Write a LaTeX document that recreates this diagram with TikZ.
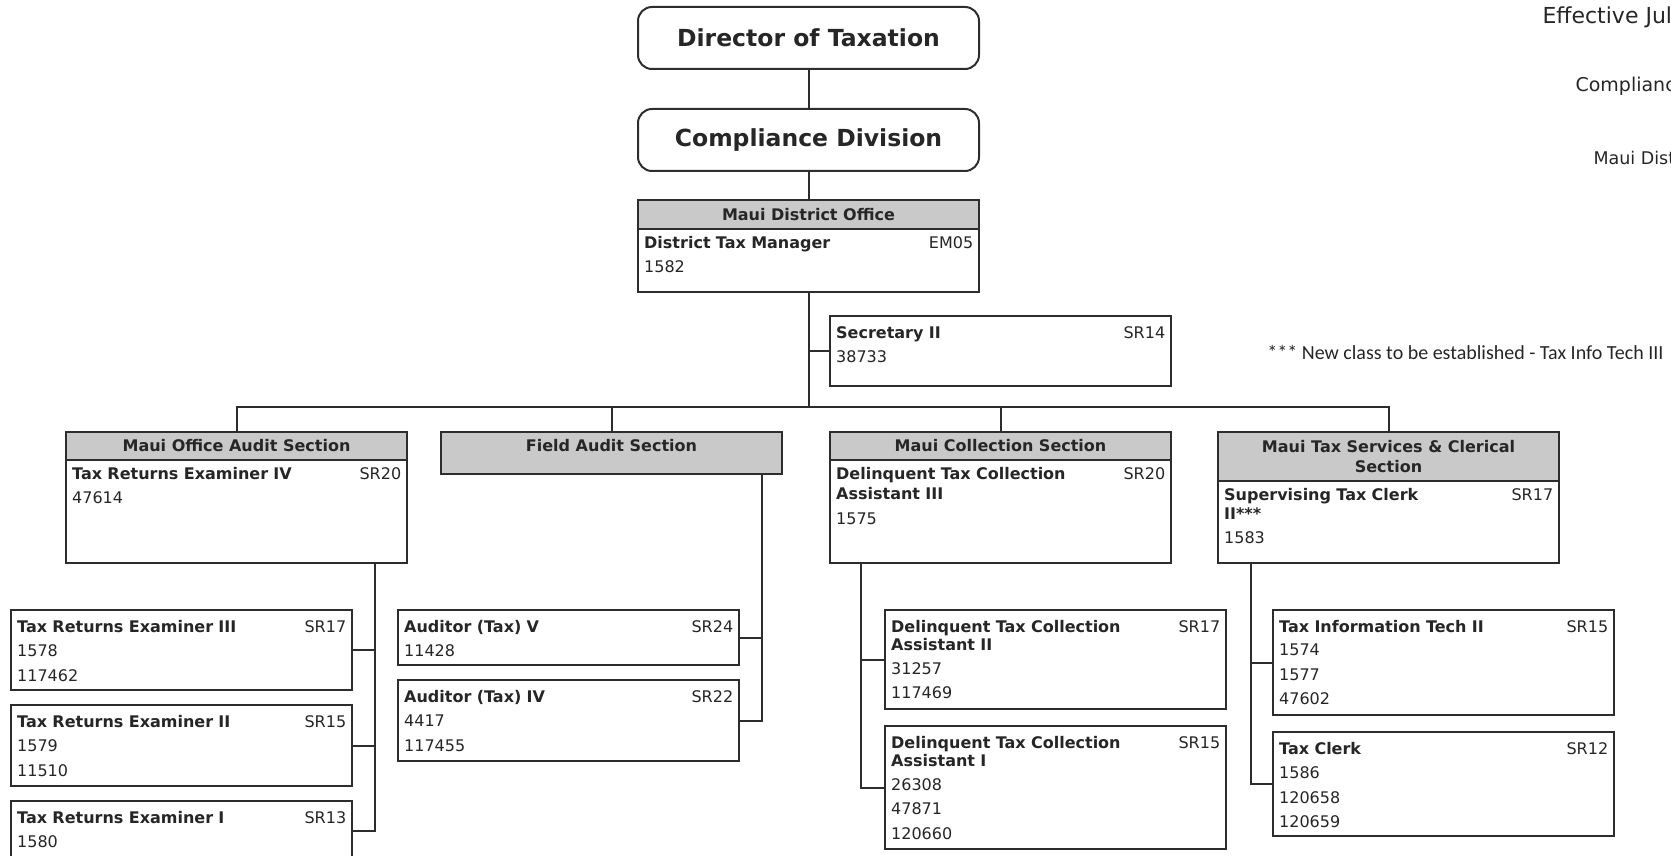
\documentclass[tikz,border=0pt]{standalone}
\usepackage{fontspec}
\setmainfont{DejaVu Sans}
\newfontfamily\notefont{Carlito}
\usetikzlibrary{positioning}
\definecolor{linegray}{RGB}{45,45,45}
\definecolor{headgray}{RGB}{201,201,201}
\newcommand{\grade}[1]{\hskip 0pt plus 1filll #1}
% plain job box: name, x, y, height, text
\newcommand{\jobbox}[5]{%
  \node[frame, minimum height=#4pt] (#1) at (#2,#3) {};
  \node[jobtext, inner ysep=10pt] (#1t) at (#1.north west) {#5};}
% job box with grey section head: name, x, y, height, head height, head, text
\newcommand{\sectbox}[7]{%
  \node[frame, minimum height=#4pt] (#1) at (#2,#3) {};
  \node[head, minimum height=#5pt] (#1h) at (#1.north west) {#6};
  \node[jobtext, inner ysep=7pt] (#1t) at (#1h.south west) {#7};}
\begin{document}
\begin{tikzpicture}[x=1pt, y=-1pt,
    every node/.style={text=black!85},
    frame/.style={draw=linegray, line width=2pt, fill=white, minimum width=341pt,
      anchor=north west, inner sep=0pt, outer sep=0pt},
    head/.style={frame, fill=headgray, minimum height=28pt, align=center,
      font=\bfseries\fontsize{16}{20}\selectfont},
    jobtext/.style={anchor=north west, inner xsep=6pt, text width=329pt, align=left,
      font=\fontsize{16}{24.5}\selectfont},
    title/.style={draw=linegray, line width=2pt, rounded corners=14pt, minimum width=341pt,
      minimum height=62pt, font=\bfseries\fontsize{23.5}{24}\selectfont},
    link/.style={draw=linegray, line width=2pt}]
\clip (0,0) rectangle (1671,856);

\node[title] (dir) at (808.5,38) {Director of Taxation};
\node[title] (comp) at (808.5,140) {Compliance Division};

\sectbox{dist}{638}{200}{92}{29}{Maui District Office}
  {\textbf{District Tax Manager}\grade{EM05}\\1582}
\jobbox{sec}{830}{316}{70}{\textbf{Secretary II}\grade{SR14}\\38733}

% sections
\sectbox{moa}{66}{432}{131}{28}{Maui Office Audit Section}
  {\textbf{Tax Returns Examiner IV}\grade{SR20}\\47614}
\node[frame, fill=headgray, minimum height=42pt] (fa) at (441,432) {};
\node[head, draw=none, fill=none] (fah) at (fa.north west) {Field Audit Section};
\sectbox{mc}{830}{432}{131}{28}{Maui Collection Section}
  {\textbf{Delinquent Tax Collection}\grade{SR20}\\[-4pt]\textbf{Assistant III}\\1575}
\sectbox{mts}{1218}{432}{131}{49}{Maui Tax Services \& Clerical\\Section}
  {\textbf{Supervising Tax Clerk}\grade{SR17}\\[-5pt]\textbf{II***}\\[-1pt]1583}

% positions
\jobbox{tre3}{11}{610}{80}{\textbf{Tax Returns Examiner III}\grade{SR17}\\1578\\117462}
\jobbox{tre2}{11}{705}{81}{\textbf{Tax Returns Examiner II}\grade{SR15}\\1579\\11510}
\jobbox{tre1}{11}{801}{60}{\textbf{Tax Returns Examiner I}\grade{SR13}\\1580}
\jobbox{aud5}{398}{610}{55}{\textbf{Auditor (Tax) V}\grade{SR24}\\11428}
\jobbox{aud4}{398}{680}{81}{\textbf{Auditor (Tax) IV}\grade{SR22}\\4417\\117455}
\jobbox{dtca2}{885}{610}{99}
  {\textbf{Delinquent Tax Collection}\grade{SR17}\\[-6pt]\textbf{Assistant II}\\[-1pt]31257\\117469}
\jobbox{dtca1}{885}{726}{123}
  {\textbf{Delinquent Tax Collection}\grade{SR15}\\[-6pt]\textbf{Assistant I}\\[-1pt]26308\\47871\\120660}
\jobbox{tit2}{1273}{610}{105}{\textbf{Tax Information Tech II}\grade{SR15}\\[-1pt]1574\\1577\\47602}
\jobbox{clerk}{1273}{732}{104}{\textbf{Tax Clerk}\grade{SR12}\\1586\\120658\\120659}

% connectors
\draw[link] (dir) -- (comp);
\draw[link] (comp) -- (dist);
\path (dist.south) ++(0,115) coordinate (bus);
\draw[link] (dist.south) -- (bus);
\draw[link] (sec.west) -- (sec.west -| bus);
\draw[link] (moa.north) |- (bus) -| (mts.north);
\draw[link] (fa.north) -- (fa.north |- bus);
\draw[link] (mc.north) -- (mc.north |- bus);

\coordinate (moad) at ([xshift=-32pt]moa.south east);
\draw[link] (moad) |- (tre1.east);
\draw[link] (moad |- tre3.east) -- (tre3.east);
\draw[link] (moad |- tre2.east) -- (tre2.east);
\coordinate (fad) at ([xshift=-20pt]fa.south east);
\draw[link] (fad) |- (aud4.east);
\draw[link] (fad |- aud5.east) -- (aud5.east);
\coordinate (mcd) at ([xshift=31pt]mc.south west);
\draw[link] (mcd) |- (dtca1.west);
\draw[link] (mcd |- dtca2.west) -- (dtca2.west);
\coordinate (mtsd) at ([xshift=33pt]mts.south west);
\draw[link] (mtsd) |- (clerk.west);
\draw[link] (mtsd |- tit2.west) -- (tit2.west);

% notes at the right edge
\node[anchor=west, font=\fontsize{22}{22}\selectfont] (eff) at (1539,17) {Effective Jul};
\node[anchor=west, font=\fontsize{19}{19}\selectfont] (cdv) at (1572,86) {Complianc};
\node[anchor=west, font=\fontsize{17.5}{17.5}\selectfont] (mdo) at (1590,158) {Maui Dist};
\node[anchor=east, font=\notefont\fontsize{20}{20}\selectfont] (note) at (1667,352)
  {*** New class to be established - Tax Info Tech III};
\end{tikzpicture}
\end{document}
